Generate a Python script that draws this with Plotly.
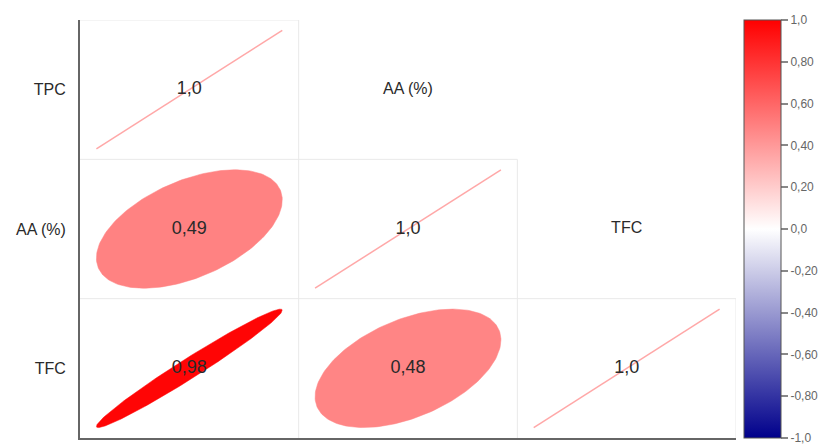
import numpy as np
import plotly.graph_objects as go
from plotly.colors import sample_colorscale

variables = ["TPC", "AA (%)", "TFC"]
corr = [
    [1.0, None, None],
    [0.49, 1.0, None],
    [0.98, 0.48, 1.0],
]
cbar_vals = [1.0, 0.8, 0.6, 0.4, 0.2, 0.0, -0.2, -0.4, -0.6, -0.8, -1.0]
cbar_text = ["1,0", "0,80", "0,60", "0,40", "0,20", "0,0", "-0,20", "-0,40", "-0,60", "-0,80", "-1,0"]

colorscale = [[0.0, "#00008B"], [0.5, "#FFFFFF"], [1.0, "#FF0000"]]
n = len(variables)
FONT = "Liberation Sans, Arial, sans-serif"


def fmt(v):
    return "1,0" if abs(v - 1.0) < 1e-9 else f"{v:.2f}".replace(".", ",")


fig = go.Figure()

# grid (lower triangle cell borders)
grid_color = "#e9e9e9"
for r in range(n):
    ytop = n - r
    fig.add_shape(type="line", x0=0, x1=r + 1, y0=ytop, y1=ytop,
                  line=dict(color=grid_color, width=1), layer="below")
for c in range(1, n + 1):
    fig.add_shape(type="line", x0=c, x1=c, y0=0, y1=n - c + 1,
                  line=dict(color=grid_color, width=1), layer="below")

s = 0.425
t = np.linspace(0, 2 * np.pi, 200)
tx, ty, tt = [], [], []
for r in range(n):
    for c in range(r + 1):
        v = corr[r][c]
        cx = c + 0.5
        cy = n - r - 0.5
        if r == c:
            fig.add_trace(go.Scatter(x=[cx - s, cx + s], y=[cy - s, cy + s], mode="lines",
                                     line=dict(color="#FFA8A8", width=1.5),
                                     hoverinfo="skip", showlegend=False))
        else:
            d = np.arccos(v)
            ex = cx + s * np.cos(t + d / 2)
            ey = cy + s * np.cos(t - d / 2)
            col = sample_colorscale(colorscale, [(v + 1) / 2])[0]
            fig.add_trace(go.Scatter(x=ex, y=ey, mode="lines", fill="toself",
                                     fillcolor=col, line=dict(color=col, width=0.5),
                                     hoverinfo="skip", showlegend=False))
        tx.append(cx)
        ty.append(cy)
        tt.append(fmt(v))

fig.add_trace(go.Scatter(x=tx, y=ty, text=tt, mode="text",
                         textfont=dict(family=FONT, size=18, color="#2a2a2a"),
                         hoverinfo="skip", showlegend=False))

# upper-triangle variable labels
ux, uy, ut = [], [], []
for j in range(1, n):
    ux.append(j + 0.5)
    uy.append(n - (j - 1) - 0.5)
    ut.append(variables[j])
fig.add_trace(go.Scatter(x=ux, y=uy, text=ut, mode="text",
                         textfont=dict(family=FONT, size=16, color="#2a2a2a"),
                         hoverinfo="skip", showlegend=False))

# colorbar carrier
fig.add_trace(go.Scatter(
    x=[0.5, 0.5], y=[0.5, 0.5], mode="markers",
    marker=dict(size=1, opacity=0, color=[-1, 1], cmin=-1, cmax=1,
                colorscale=colorscale, showscale=True,
                colorbar=dict(x=(744 - 80) / 656, xanchor="left", xpad=0,
                              y=0, yanchor="bottom", ypad=0, len=1, lenmode="fraction",
                              thickness=37, outlinewidth=1, outlinecolor="#555",
                              tickvals=cbar_vals, ticktext=cbar_text,
                              ticklabeloverflow="allow",
                              ticks="outside", ticklen=7, tickwidth=2, tickcolor="#888",
                              tickfont=dict(family=FONT, size=12, color="#666"))),
    hoverinfo="skip", showlegend=False))

fig.update_layout(
    width=833, height=446,
    margin=dict(l=80, r=97, t=20, b=8),
    paper_bgcolor="white", plot_bgcolor="white",
    xaxis=dict(range=[0, n], showgrid=False, zeroline=False, showticklabels=False,
               showline=True, linecolor="#666", linewidth=2, fixedrange=True),
    yaxis=dict(range=[0, n], showgrid=False, zeroline=False,
               tickvals=[n - r - 0.5 for r in range(n)], ticktext=variables,
               ticks="outside", ticklen=9, tickcolor="rgba(0,0,0,0)",
               tickfont=dict(family=FONT, size=16, color="#2a2a2a"),
               showline=True, linecolor="#666", linewidth=2, fixedrange=True),
    showlegend=False,
)

fig.write_html("out.html")
